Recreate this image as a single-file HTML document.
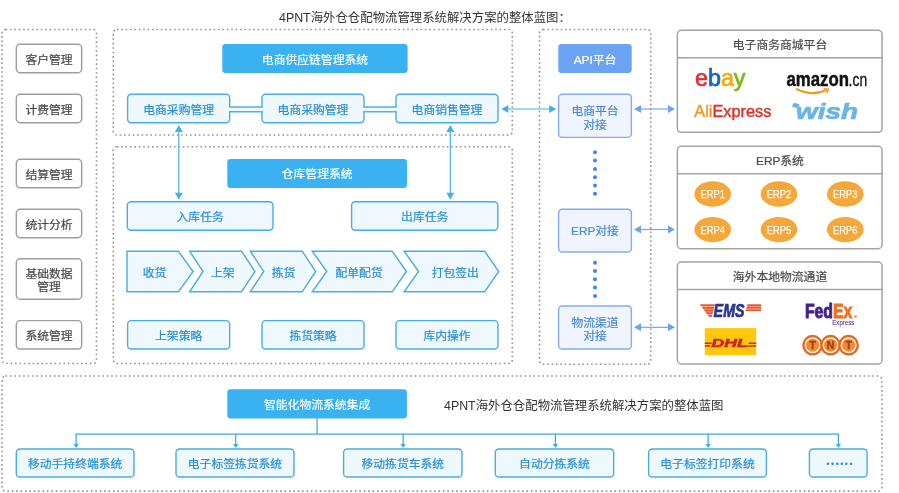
<!DOCTYPE html>
<html lang="zh-CN">
<head>
<meta charset="utf-8">
<title>4PNT海外仓仓配物流管理系统解决方案的整体蓝图</title>
<style>
html,body{margin:0;padding:0;background:#fff;}
body{width:899px;height:493px;overflow:hidden;position:relative;
 font-family:"Liberation Sans","Noto Sans CJK SC",sans-serif;font-size:12px;color:#333;}
#stage{position:absolute;left:0;top:0;width:899px;height:493px;overflow:hidden;}
#txt{position:absolute;left:0;top:0;width:899px;height:493px;will-change:transform;}
#stage svg{position:absolute;left:0;top:0;}
.b{position:absolute;text-align:center;line-height:15px;white-space:nowrap;font-size:11.8px;}
.el{font-family:"Liberation Sans",sans-serif;font-size:9px;letter-spacing:1.45px;margin-right:-1.45px;position:relative;top:-1px;left:1.3px;-webkit-text-stroke:0;}
.grey{color:#484848;-webkit-text-stroke:0.2px #484848;}
.blue{color:#fff;-webkit-text-stroke:0.2px #fff;}
.api{color:#fff;-webkit-text-stroke:0.2px #fff;}
.lt,.c{color:#298fd8;-webkit-text-stroke:0.22px #298fd8;}
.ltapi{color:#4a88de;-webkit-text-stroke:0.2px #4a88de;}
.t{position:absolute;white-space:nowrap;line-height:16px;color:#333;}
.c{position:absolute;text-align:center;white-space:nowrap;line-height:16px;font-size:11.8px;transform:translateX(-50%);}
</style>
</head>
<body>
<div id="stage">
<svg id="under" width="899" height="493" viewBox="0 0 899 493">
<rect x="2" y="29.5" width="94.5" height="334.0" rx="3.5" ry="3.5" fill="none" stroke="#939393" stroke-width="1.6" stroke-dasharray="1.6 2.8"/>
<rect x="113.3" y="29.5" width="399.0" height="105.5" rx="3.5" ry="3.5" fill="none" stroke="#939393" stroke-width="1.6" stroke-dasharray="1.6 2.8"/>
<rect x="113.3" y="146.7" width="399.0" height="216.8" rx="3.5" ry="3.5" fill="none" stroke="#939393" stroke-width="1.6" stroke-dasharray="1.6 2.8"/>
<rect x="539.5" y="29.5" width="111.2" height="334.8" rx="3.5" ry="3.5" fill="none" stroke="#939393" stroke-width="1.6" stroke-dasharray="1.6 2.8"/>
<rect x="2" y="376" width="879.9" height="115.1" rx="3.5" ry="3.5" fill="none" stroke="#939393" stroke-width="1.6" stroke-dasharray="1.6 2.8"/>
<rect x="16.32" y="44.33" width="65.35" height="28.35" rx="3.8" fill="#fff" stroke="#9e9e9e" stroke-width="1.45"/>
<rect x="16.32" y="94.32" width="65.35" height="28.35" rx="3.8" fill="#fff" stroke="#9e9e9e" stroke-width="1.45"/>
<rect x="16.32" y="159.32" width="65.35" height="28.35" rx="3.8" fill="#fff" stroke="#9e9e9e" stroke-width="1.45"/>
<rect x="16.32" y="209.32" width="65.35" height="28.35" rx="3.8" fill="#fff" stroke="#9e9e9e" stroke-width="1.45"/>
<rect x="16.32" y="258.83" width="65.35" height="40.35" rx="3.8" fill="#fff" stroke="#9e9e9e" stroke-width="1.45"/>
<rect x="16.32" y="320.63" width="65.35" height="28.35" rx="3.8" fill="#fff" stroke="#9e9e9e" stroke-width="1.45"/>
<rect x="222.3" y="44" width="185.3" height="29" rx="3.3" fill="#3ab1f0"/>
<rect x="227.3" y="159" width="179.7" height="29" rx="3.3" fill="#3ab1f0"/>
<rect x="227.3" y="389.3" width="179.6" height="29.3" rx="3.3" fill="#3ab1f0"/>
<rect x="558.3" y="44" width="73.4" height="29" rx="3.3" fill="#6da3f4"/>
<rect x="127.6" y="94.3" width="102.1" height="28.4" rx="3.6" fill="#eff8fd" stroke="#49ace3" stroke-width="1.4"/>
<rect x="262.0" y="94.3" width="102.0" height="28.4" rx="3.6" fill="#eff8fd" stroke="#49ace3" stroke-width="1.4"/>
<rect x="396.0" y="94.3" width="102.0" height="28.4" rx="3.6" fill="#eff8fd" stroke="#49ace3" stroke-width="1.4"/>
<rect x="227.4" y="107" width="36.9" height="4.6" fill="#eef7fc"/>
<path d="M229 106.9H262.7M229 111.7H262.7" stroke="#4fb0e4" stroke-width="1.5" fill="none"/>
<rect x="361.7" y="107" width="36.6" height="4.6" fill="#eef7fc"/>
<path d="M363.3 106.9H396.7M363.3 111.7H396.7" stroke="#4fb0e4" stroke-width="1.5" fill="none"/>
<rect x="127.3" y="201.7" width="145.7" height="28.5" rx="3.6" fill="#eff8fd" stroke="#49ace3" stroke-width="1.4"/>
<rect x="351.6" y="201.7" width="146.2" height="28.5" rx="3.6" fill="#eff8fd" stroke="#49ace3" stroke-width="1.4"/>
<rect x="127.6" y="320.6" width="102.1" height="28.4" rx="3.6" fill="#eff8fd" stroke="#49ace3" stroke-width="1.4"/>
<rect x="262.0" y="320.6" width="102.0" height="28.4" rx="3.6" fill="#eff8fd" stroke="#49ace3" stroke-width="1.4"/>
<rect x="396.0" y="320.6" width="102.0" height="28.4" rx="3.6" fill="#eff8fd" stroke="#49ace3" stroke-width="1.4"/>
<rect x="558.6" y="94.3" width="72.8" height="43.1" rx="3.6" fill="#eff4fe" stroke="#82adf0" stroke-width="1.4"/>
<rect x="558.6" y="209.3" width="72.8" height="42.7" rx="3.6" fill="#eff4fe" stroke="#82adf0" stroke-width="1.4"/>
<rect x="558.6" y="306.0" width="72.8" height="43.0" rx="3.6" fill="#eff4fe" stroke="#82adf0" stroke-width="1.4"/>
<rect x="16.3" y="449.0" width="117.7" height="28.0" rx="3.6" fill="#eff8fd" stroke="#49ace3" stroke-width="1.4"/>
<rect x="176.0" y="449.0" width="118.0" height="28.0" rx="3.6" fill="#eff8fd" stroke="#49ace3" stroke-width="1.4"/>
<rect x="343.6" y="449.0" width="118.4" height="28.0" rx="3.6" fill="#eff8fd" stroke="#49ace3" stroke-width="1.4"/>
<rect x="495.3" y="449.0" width="118.4" height="28.0" rx="3.6" fill="#eff8fd" stroke="#49ace3" stroke-width="1.4"/>
<rect x="648.6" y="449.0" width="117.8" height="28.0" rx="3.6" fill="#eff8fd" stroke="#49ace3" stroke-width="1.4"/>
<rect x="809.4" y="449.0" width="57.7" height="28.0" rx="3.6" fill="#eff8fd" stroke="#49ace3" stroke-width="1.4"/>
<polygon points="127,251.2 178.4,251.2 193.1,271.5 178.4,291.8 127,291.8" fill="#eff8fd" stroke="#49ace3" stroke-width="1.4" stroke-linejoin="miter"/>
<polygon points="189.6,251.2 241.5,251.2 255,271.5 241.5,291.8 189.6,291.8 203,271.5" fill="#eff8fd" stroke="#49ace3" stroke-width="1.4" stroke-linejoin="miter"/>
<polygon points="250.3,251.2 302.2,251.2 315.7,271.5 302.2,291.8 250.3,291.8 263.7,271.5" fill="#eff8fd" stroke="#49ace3" stroke-width="1.4" stroke-linejoin="miter"/>
<polygon points="312.2,251.2 392.2,251.2 406.5,271.5 392.2,291.8 312.2,291.8 326.8,271.5" fill="#eff8fd" stroke="#49ace3" stroke-width="1.4" stroke-linejoin="miter"/>
<polygon points="404.1,251.2 484.7,251.2 498.7,271.5 484.7,291.8 404.1,291.8 418.6,271.5" fill="#eff8fd" stroke="#49ace3" stroke-width="1.4" stroke-linejoin="miter"/>
<path d="M178.8 130V194.8" stroke="#45b0e6" stroke-width="1.15" fill="none"/>
<path d="M178.8 125l-4 7h8zM178.8 199.8l-4 -7h8z" fill="#45b0e6"/>
<path d="M450.3 130V194.8" stroke="#45b0e6" stroke-width="1.15" fill="none"/>
<path d="M450.3 125l-4 7h8zM450.3 199.8l-4 -7h8z" fill="#45b0e6"/>
<path d="M506.3 109H551.2" stroke="#45b0e6" stroke-width="1.15" fill="none"/>
<path d="M501.3 109l7 -4v8zM556.2 109l-7 -4v8z" fill="#45b0e6"/>
<path d="M639.1 109H670" stroke="#6fa2ee" stroke-width="1.15" fill="none"/>
<path d="M634.1 109l7 -4v8zM675 109l-7 -4v8z" fill="#6fa2ee"/>
<path d="M639 229.5H670" stroke="#6fa2ee" stroke-width="1.15" fill="none"/>
<path d="M634 229.5l7 -4v8zM675 229.5l-7 -4v8z" fill="#6fa2ee"/>
<path d="M639 327.3H670" stroke="#6fa2ee" stroke-width="1.15" fill="none"/>
<path d="M634 327.3l7 -4v8zM675 327.3l-7 -4v8z" fill="#6fa2ee"/>
<circle cx="595" cy="152.3" r="2" fill="#3f86e8"/>
<circle cx="595" cy="160.6" r="2" fill="#3f86e8"/>
<circle cx="595" cy="168.9" r="2" fill="#3f86e8"/>
<circle cx="595" cy="177.2" r="2" fill="#3f86e8"/>
<circle cx="595" cy="185.5" r="2" fill="#3f86e8"/>
<circle cx="595" cy="193.8" r="2" fill="#3f86e8"/>
<circle cx="595" cy="262.7" r="2" fill="#3f86e8"/>
<circle cx="595" cy="271" r="2" fill="#3f86e8"/>
<circle cx="595" cy="279.3" r="2" fill="#3f86e8"/>
<circle cx="595" cy="287.6" r="2" fill="#3f86e8"/>
<circle cx="595" cy="295.9" r="2" fill="#3f86e8"/>
<path d="M317.1 418V434M75.4 434H839.1" stroke="#3fa7e1" stroke-width="1.25" fill="none"/>
<path d="M76.1 434V445" stroke="#3fa7e1" stroke-width="1.25" fill="none"/>
<path d="M76.1 448.1l-2.6 -4h5.2z" fill="#3caae4"/>
<path d="M235.7 434V445" stroke="#3fa7e1" stroke-width="1.25" fill="none"/>
<path d="M235.7 448.1l-2.6 -4h5.2z" fill="#3caae4"/>
<path d="M403.1 434V445" stroke="#3fa7e1" stroke-width="1.25" fill="none"/>
<path d="M403.1 448.1l-2.6 -4h5.2z" fill="#3caae4"/>
<path d="M555.4 434V445" stroke="#3fa7e1" stroke-width="1.25" fill="none"/>
<path d="M555.4 448.1l-2.6 -4h5.2z" fill="#3caae4"/>
<path d="M708.1 434V445" stroke="#3fa7e1" stroke-width="1.25" fill="none"/>
<path d="M708.1 448.1l-2.6 -4h5.2z" fill="#3caae4"/>
<path d="M838.4 434V445" stroke="#3fa7e1" stroke-width="1.25" fill="none"/>
<path d="M838.4 448.1l-2.6 -4h5.2z" fill="#3caae4"/>
<rect x="677.35" y="30.35" width="204.7" height="102.0" rx="4" fill="#fff" stroke="#a3a3a3" stroke-width="1.5"/>
<path d="M677.4 57.8H882.3" stroke="#a3a3a3" stroke-width="1.5" fill="none"/>
<rect x="677.35" y="146.35" width="204.7" height="102.3" rx="4" fill="#fff" stroke="#a3a3a3" stroke-width="1.5"/>
<path d="M677.4 173.8H882.3" stroke="#a3a3a3" stroke-width="1.5" fill="none"/>
<rect x="677.35" y="262.05" width="204.7" height="101.9" rx="4" fill="#fff" stroke="#a3a3a3" stroke-width="1.5"/>
<path d="M677.4 289.5H882.3" stroke="#a3a3a3" stroke-width="1.5" fill="none"/>
</svg>
<div id="txt">
<div class="t" style="left:279px;top:10px;font-size:12.4px;">4PNT海外仓仓配物流管理系统解决方案的整体蓝图：</div>
<div class="t" style="left:444px;top:398px;font-size:12.4px;">4PNT海外仓仓配物流管理系统解决方案的整体蓝图</div>
<div class="b grey" style="left:16px;top:53px;width:66px;height:15px;">客户管理</div>
<div class="b grey" style="left:16px;top:103px;width:66px;height:15px;">计费管理</div>
<div class="b grey" style="left:16px;top:168px;width:66px;height:15px;">结算管理</div>
<div class="b grey" style="left:16px;top:218px;width:66px;height:15px;">统计分析</div>
<div class="b grey" style="left:16px;top:267px;width:66px;height:26px;"><div style="height:13px">基础数据</div><div style="height:13px">管理</div></div>
<div class="b grey" style="left:16px;top:329px;width:66px;height:15px;">系统管理</div>
<div class="b blue" style="left:222.3px;top:53px;width:185.3px;height:15px;">电商供应链管理系统</div>
<div class="b blue" style="left:227.3px;top:167px;width:179.7px;height:15px;">仓库管理系统</div>
<div class="b blue" style="left:227.3px;top:398px;width:179.6px;height:15px;">智能化物流系统集成</div>
<div class="b api" style="left:558.3px;top:53px;width:73.4px;height:15px;">API平台</div>
<div class="b lt" style="left:127.3px;top:103px;width:102.7px;height:15px;">电商采购管理</div>
<div class="b lt" style="left:261.7px;top:103px;width:102.6px;height:15px;">电商采购管理</div>
<div class="b lt" style="left:395.7px;top:103px;width:102.6px;height:15px;">电商销售管理</div>
<div class="b lt" style="left:127px;top:210px;width:146.3px;height:15px;">入库任务</div>
<div class="b lt" style="left:351.3px;top:210px;width:146.8px;height:15px;">出库任务</div>
<div class="b lt" style="left:127.3px;top:329px;width:102.7px;height:15px;">上架策略</div>
<div class="b lt" style="left:261.7px;top:329px;width:102.6px;height:15px;">拣货策略</div>
<div class="b lt" style="left:395.7px;top:329px;width:102.6px;height:15px;">库内操作</div>
<div class="b ltapi" style="left:558.3px;top:104px;width:73.4px;height:28px;"><div style="height:14px">电商平台</div><div style="height:14px">对接</div></div>
<div class="b ltapi" style="left:558.3px;top:224px;width:73.4px;height:15px;">ERP对接</div>
<div class="b ltapi" style="left:558.3px;top:316px;width:73.4px;height:26px;"><div style="height:13px">物流渠道</div><div style="height:13px">对接</div></div>
<div class="b lt" style="left:16px;top:457px;width:118.3px;height:15px;">移动手持终端系统</div>
<div class="b lt" style="left:175.7px;top:457px;width:118.6px;height:15px;">电子标签拣货系统</div>
<div class="b lt" style="left:343.3px;top:457px;width:119.0px;height:15px;">移动拣货车系统</div>
<div class="b lt" style="left:495px;top:457px;width:119px;height:15px;">自动分拣系统</div>
<div class="b lt" style="left:648.3px;top:457px;width:118.4px;height:15px;">电子标签打印系统</div>
<div class="b lt" style="left:809.1px;top:457px;width:58.3px;height:15px;"><span class="el">••••••</span></div>
<div class="c" style="left:154.6px;top:264.8px;">收货</div>
<div class="c" style="left:222.8px;top:264.8px;">上架</div>
<div class="c" style="left:283.5px;top:264.8px;">拣货</div>
<div class="c" style="left:359px;top:264.8px;">配单配货</div>
<div class="c" style="left:455.3px;top:264.8px;">打包签出</div>
<div class="b grey" style="left:677.3px;top:38px;width:205.4px;height:15px;">电子商务商城平台</div>
<div class="b grey" style="left:677.3px;top:154px;width:205.4px;height:15px;">ERP系统</div>
<div class="b grey" style="left:677.3px;top:270px;width:205.4px;height:15px;">海外本地物流通道</div>
</div>
<svg id="over" width="899" height="493" viewBox="0 0 899 493" style="pointer-events:none">
<ellipse cx="712.7" cy="194" rx="18.3" ry="12.7" fill="#f4a73a"/>
<text x="700.5" y="198.1" font-size="11.3" fill="#fffaf0" stroke="#fffaf0" stroke-width="0.25" font-family="Liberation Sans, sans-serif" textLength="24.4" lengthAdjust="spacingAndGlyphs">ERP1</text>
<ellipse cx="779" cy="194" rx="18.3" ry="12.7" fill="#f4a73a"/>
<text x="766.8" y="198.1" font-size="11.3" fill="#fffaf0" stroke="#fffaf0" stroke-width="0.25" font-family="Liberation Sans, sans-serif" textLength="24.4" lengthAdjust="spacingAndGlyphs">ERP2</text>
<ellipse cx="845.3" cy="194" rx="18.3" ry="12.7" fill="#f4a73a"/>
<text x="833.0999999999999" y="198.1" font-size="11.3" fill="#fffaf0" stroke="#fffaf0" stroke-width="0.25" font-family="Liberation Sans, sans-serif" textLength="24.4" lengthAdjust="spacingAndGlyphs">ERP3</text>
<ellipse cx="712.7" cy="229.6" rx="18.3" ry="12.7" fill="#f4a73a"/>
<text x="700.5" y="233.7" font-size="11.3" fill="#fffaf0" stroke="#fffaf0" stroke-width="0.25" font-family="Liberation Sans, sans-serif" textLength="24.4" lengthAdjust="spacingAndGlyphs">ERP4</text>
<ellipse cx="779" cy="229.6" rx="18.3" ry="12.7" fill="#f4a73a"/>
<text x="766.8" y="233.7" font-size="11.3" fill="#fffaf0" stroke="#fffaf0" stroke-width="0.25" font-family="Liberation Sans, sans-serif" textLength="24.4" lengthAdjust="spacingAndGlyphs">ERP5</text>
<ellipse cx="845.3" cy="229.6" rx="18.3" ry="12.7" fill="#f4a73a"/>
<text x="833.0999999999999" y="233.7" font-size="11.3" fill="#fffaf0" stroke="#fffaf0" stroke-width="0.25" font-family="Liberation Sans, sans-serif" textLength="24.4" lengthAdjust="spacingAndGlyphs">ERP6</text>
<g id="logo-ebay" font-family="Liberation Sans, sans-serif" font-size="23" stroke-width="0.7">
<text x="695" y="85.8" textLength="50.5" lengthAdjust="spacingAndGlyphs"><tspan fill="#dd3030" stroke="#dd3030">e</tspan><tspan fill="#1263cc" stroke="#1263cc">b</tspan><tspan fill="#f2ab10" stroke="#f2ab10">a</tspan><tspan fill="#82b71a" stroke="#82b71a">y</tspan></text>
</g>
<g id="logo-amazon" font-family="Liberation Sans, sans-serif">
<text x="786.5" y="86" font-size="19.5" font-weight="bold" fill="#111" stroke="#111" stroke-width="0.45" textLength="62.5" lengthAdjust="spacingAndGlyphs">amazon</text>
<text x="848.6" y="86" font-size="18.5" fill="#111" stroke="#111" stroke-width="0.3" textLength="18.6" lengthAdjust="spacingAndGlyphs">.cn</text>
<path d="M797 89.2 Q812 96.5 826 90.2" stroke="#f39a1e" stroke-width="2.3" fill="none" stroke-linecap="round"/>
<path d="M823.5 88.6 L828.6 88.9 L826.8 93.2" stroke="#f39a1e" stroke-width="1.4" fill="none" stroke-linejoin="round"/>
</g>
<g id="logo-aliexpress" font-family="Liberation Sans, sans-serif" font-size="16">
<text x="694.3" y="116.8" textLength="77" lengthAdjust="spacingAndGlyphs" stroke-width="0.45"><tspan fill="#ee9626" stroke="#ee9626">Ali</tspan><tspan fill="#dc3327" stroke="#dc3327">Express</tspan></text>
</g>
<g id="logo-wish" font-family="Liberation Sans, sans-serif">
<text x="796" y="118.8" font-size="22" font-weight="bold" font-style="italic" fill="#6bb5e6" stroke="#6bb5e6" stroke-width="0.7" textLength="62" lengthAdjust="spacingAndGlyphs">wish</text>
<path d="M792.8 103.4 q4 -1 7 1.6 l-2.6 3.4 q-2 -1.6 -5 -1z" fill="#6bb5e6"/>
</g>
<g id="logo-ems">
<clipPath id="emsL"><polygon points="699.8,304.2 715,304.2 711.6,317.4 709.6,317.4"/></clipPath>
<clipPath id="emsR"><polygon points="747.6,304.2 761.2,304.2 761.2,311 745.6,311"/></clipPath>
<g clip-path="url(#emsL)"><rect x="699" y="304.2" width="17" height="13.4" fill="#f6b59c"/><path d="M699 305.1h17M699 307.8h17M699 310.5h17M699 313.2h17M699 315.9h17" stroke="#e2562a" stroke-width="1.8" fill="none"/></g>
<g clip-path="url(#emsR)"><rect x="745" y="304.2" width="17" height="7" fill="#f6b59c"/><path d="M745 305.1h17M745 307.7h17M745 310.3h17" stroke="#e2562a" stroke-width="1.7" fill="none"/></g>
<text x="713.6" y="317.3" font-family="Liberation Sans, sans-serif" font-size="17.8" font-weight="bold" font-style="italic" fill="#2c3394" stroke="#2c3394" stroke-width="0.7" textLength="31" lengthAdjust="spacingAndGlyphs">EMS</text>
</g>
<g id="logo-fedex" font-family="Liberation Sans, sans-serif">
<text x="804.9" y="317.9" font-size="20" font-weight="bold" stroke-width="0.9" textLength="47.5" lengthAdjust="spacingAndGlyphs"><tspan fill="#43208f" stroke="#43208f">Fed</tspan><tspan fill="#f0701f" stroke="#f0701f">Ex</tspan></text>
<circle cx="855.5" cy="316.6" r="1.4" fill="#f3964f"/>
<text x="832.3" y="325.4" font-size="7.4" fill="#5a3fa0" stroke="#5a3fa0" stroke-width="0.15" textLength="22" lengthAdjust="spacingAndGlyphs">Express</text>
</g>
<g id="logo-dhl">
<rect x="704.8" y="328.1" width="51.4" height="27.2" fill="#fdc90a"/>
<path d="M704.8 342.6h7.4l-.8 1.5h-6.6zM704.8 345.2h6l-.8 1.5h-5.2zM749 342.6h7.2v1.5h-8zM747.6 345.2h8.6v1.5h-9.4z" fill="#d3202a"/>
<text x="711.6" y="346.7" font-family="Liberation Sans, sans-serif" font-size="11.5" font-weight="bold" font-style="italic" fill="#d3202a" stroke="#d3202a" stroke-width="0.6" textLength="36" lengthAdjust="spacingAndGlyphs">DHL</text>
</g>
<g id="logo-tnt" font-family="Liberation Sans, sans-serif" font-size="10.5" font-weight="bold" text-anchor="middle">
<circle cx="812.6" cy="345.2" r="9.2" fill="#fdf1e4" stroke="#e4681c" stroke-width="2.3"/>
<circle cx="830.6" cy="345.2" r="9.2" fill="#fdf1e4" stroke="#e4681c" stroke-width="2.3"/>
<circle cx="848.6" cy="345.2" r="9.2" fill="#fdf1e4" stroke="#e4681c" stroke-width="2.3"/>
<circle cx="812.6" cy="345.2" r="6.5" fill="#f28a3c"/>
<circle cx="830.6" cy="345.2" r="6.5" fill="#f28a3c"/>
<circle cx="848.6" cy="345.2" r="6.5" fill="#f28a3c"/>
<text x="812.6" y="349" fill="#a3440c" stroke="#a3440c" stroke-width="0.4">T</text>
<text x="830.6" y="349" fill="#a3440c" stroke="#a3440c" stroke-width="0.4">N</text>
<text x="848.6" y="349" fill="#a3440c" stroke="#a3440c" stroke-width="0.4">T</text>
</g>

</svg>
</div>
</body>
</html>
